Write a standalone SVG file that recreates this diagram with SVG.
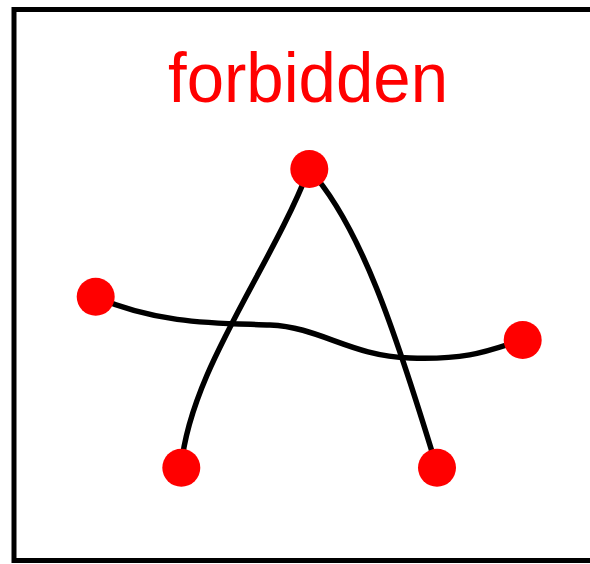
<svg xmlns="http://www.w3.org/2000/svg" width="590" height="564" viewBox="0 0 590 564">
<style>
.edge{fill:none;stroke:#000;stroke-width:5.5;stroke-linecap:round}
.node{fill:#ff0000}
.frame{fill:#fff;stroke:#000;stroke-width:5}
.title{font-family:"Liberation Sans","DejaVu Sans",sans-serif;fill:#ff0000;font-size:70px}
</style>
<rect class="frame" x="14" y="9.5" width="590" height="551"/>
<text class="title" x="308" y="102" text-anchor="middle" textLength="280" lengthAdjust="spacingAndGlyphs">forbidden</text>
<g id="connectors">
<path class="edge" d="M309,169 C270,270 190,370 181,468"/>
<path class="edge" d="M309,169 C360,225 395,330 437,468"/>
<path class="edge" d="M96,297 C160,325 220,323 270,325 S350,356 410,358 S490,350 522,340"/>
</g>
<g id="n-top"><circle class="node" cx="309.3" cy="169" r="19"/></g>
<g id="n-left"><circle class="node" cx="95.7" cy="296.7" r="19"/></g>
<g id="n-right"><circle class="node" cx="522.7" cy="340" r="19"/></g>
<g id="n-bl"><circle class="node" cx="181.3" cy="467.7" r="19"/></g>
<g id="n-br"><circle class="node" cx="437" cy="467.7" r="19"/></g>
</svg>
